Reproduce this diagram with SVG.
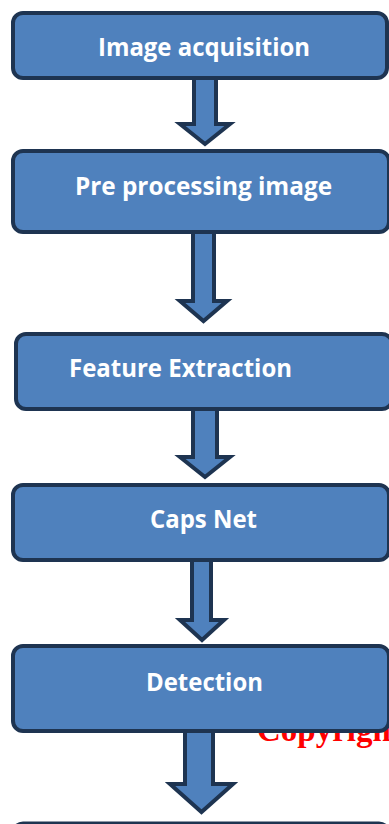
<svg xmlns="http://www.w3.org/2000/svg" width="389" height="824" viewBox="0 0 389 824">
  <style>
    .box { fill: #4f81bd; stroke: #1e3451; stroke-width: 4; }
    .arrow { fill: #4f81bd; stroke: #1e3451; stroke-width: 4; stroke-linejoin: miter; }
    .label { fill: #ffffff; font-family: "Open Sans", "Noto Sans", "Liberation Sans", sans-serif; font-weight: bold; font-size: 25px; text-anchor: middle; }
    .mark { fill: #ff0000; font-family: "Liberation Serif", "Times New Roman", serif; font-weight: bold; font-size: 33px; }
  </style>
  <rect width="389" height="824" fill="#ffffff"/>

  <!-- watermark text, partly hidden behind the Detection box -->
  <text class="mark" x="257" y="741">Copyright</text>

  <g id="node-acquisition">
    <rect class="box" x="13" y="13" width="374" height="65" rx="10"/>
    <text class="label" x="204" y="56" textLength="212" lengthAdjust="spacingAndGlyphs">Image acquisition</text>
  </g>
  <g id="node-preprocessing">
    <rect class="box" x="13" y="151" width="376" height="81" rx="10"/>
    <text class="label" x="203.5" y="195" textLength="257" lengthAdjust="spacingAndGlyphs">Pre processing image</text>
  </g>
  <g id="node-feature">
    <rect class="box" x="16" y="334" width="376" height="75" rx="10"/>
    <text class="label" x="180.5" y="377" textLength="223" lengthAdjust="spacingAndGlyphs">Feature Extraction</text>
  </g>
  <g id="node-capsnet">
    <rect class="box" x="13" y="485" width="376" height="75" rx="10"/>
    <text class="label" x="203.5" y="528" textLength="107" lengthAdjust="spacingAndGlyphs">Caps Net</text>
  </g>
  <g id="node-detection">
    <rect class="box" x="13" y="646" width="376" height="85" rx="10"/>
    <text class="label" x="204.5" y="691" textLength="117" lengthAdjust="spacingAndGlyphs">Detection</text>
  </g>
  <g id="node-next">
    <rect class="box" x="13" y="823.5" width="376" height="60" rx="10"/>
  </g>

  <!-- block arrows between stages -->
  <g id="connectors">
    <polygon class="arrow" points="194,78 216,78 216,124 230,124 205,144 180,124 194,124"/>
    <polygon class="arrow" points="193,232 214,232 214,301 227,301 203.5,321 180,301 193,301"/>
    <polygon class="arrow" points="193,409 217,409 217,457 230,457 205,477 180,457 193,457"/>
    <polygon class="arrow" points="192,560 211,560 211,620 224,620 202,640 180,620 192,620"/>
    <polygon class="arrow" points="185,731 213,731 213,784 233,784 201.5,812 170,784 185,784"/>
  </g>
</svg>
